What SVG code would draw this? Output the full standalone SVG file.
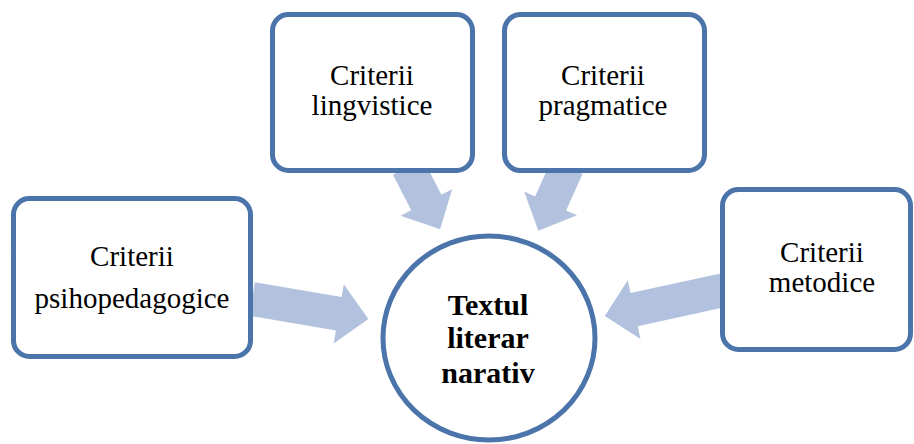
<svg xmlns="http://www.w3.org/2000/svg" width="914" height="444" viewBox="0 0 914 444">
<defs>
<style>
.box{fill:#fff;stroke:#4A74AA;stroke-width:5}
.arr{fill:#B2C2DE}
text{font-family:'Liberation Serif','Times New Roman',serif;fill:#000;text-anchor:middle}
.t{font-size:29px}
.b{font-size:30px;font-weight:bold}
</style>
</defs>
<rect width="914" height="444" fill="#fff"/>
<g id="connectors">
<path class="arr" d="M0,-17 L88,-17 L88,-30 L118,0 L88,30 L88,17 L0,17 Z" transform="translate(252,299) rotate(9.7)"/>
<path class="arr" d="M0,-17 L40,-17 L40,-29 L70,0 L40,29 L40,17 L0,17 Z" transform="translate(408,167) rotate(62.7)"/>
<path class="arr" d="M0,-17 L40,-17 L40,-29 L70,0 L40,29 L40,17 L0,17 Z" transform="translate(567,167) rotate(114.2)"/>
<path class="arr" d="M0,-17 L92,-17 L92,-30 L122,0 L92,30 L92,17 L0,17 Z" transform="translate(724,290) rotate(167.7)"/>
</g>
<g id="psihopedagogice">
<rect class="box" x="13.5" y="198.5" width="237" height="158" rx="16"/>
<text class="t" x="132" y="266">Criterii</text>
<text class="t" x="132" y="308">psihopedagogice</text>
</g>
<g id="lingvistice">
<rect class="box" x="272.5" y="14.5" width="200" height="156" rx="16"/>
<text class="t" x="372" y="85">Criterii</text>
<text class="t" x="372" y="115">lingvistice</text>
</g>
<g id="pragmatice">
<rect class="box" x="504.5" y="14.5" width="200" height="156" rx="16"/>
<text class="t" x="603" y="85">Criterii</text>
<text class="t" x="603" y="115">pragmatice</text>
</g>
<g id="metodice">
<rect class="box" x="722.5" y="189.5" width="188" height="160" rx="16"/>
<text class="t" x="822" y="262">Criterii</text>
<text class="t" x="822" y="292">metodice</text>
</g>
<g id="textul">
<ellipse class="box" cx="489" cy="338" rx="106" ry="102"/>
<text class="b" x="488" y="315">Textul</text>
<text class="b" x="488" y="348">literar</text>
<text class="b" x="488" y="383">narativ</text>
</g>
</svg>
